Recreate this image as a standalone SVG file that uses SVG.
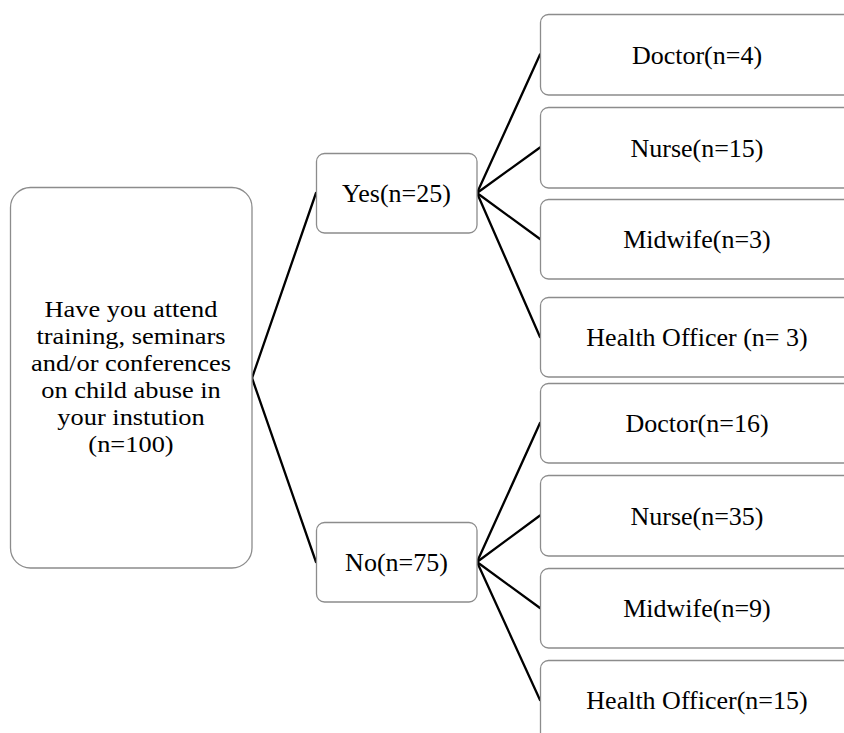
<svg xmlns="http://www.w3.org/2000/svg" width="844" height="733" viewBox="0 0 844 733">
<style>
.box{fill:#ffffff;stroke:#8c8c8c;stroke-width:1.3}
.lbl{font-family:"Liberation Serif","Times New Roman",serif;font-size:26px;fill:#000000;text-anchor:middle}
.root{font-family:"Liberation Serif","Times New Roman",serif;font-size:24px;fill:#000000;text-anchor:middle}
.conn line{stroke:#000000;stroke-width:2.3;stroke-linecap:round}
</style>
<rect width="844" height="733" fill="#ffffff"/>
<g id="connectors" class="conn">
<line x1="252" y1="378" x2="316" y2="193"/>
<line x1="252" y1="378" x2="316" y2="562"/>
<line x1="477" y1="193" x2="540" y2="54.5"/>
<line x1="477" y1="193" x2="540" y2="147.5"/>
<line x1="477" y1="193" x2="540" y2="239"/>
<line x1="477" y1="193" x2="540" y2="337"/>
<line x1="477" y1="562" x2="540" y2="423"/>
<line x1="477" y1="562" x2="540" y2="515.5"/>
<line x1="477" y1="562" x2="540" y2="608"/>
<line x1="477" y1="562" x2="540" y2="700"/>
</g>
<g id="root">
<rect class="box" x="10.5" y="187.5" width="241.5" height="380.5" rx="20" ry="20"/>
<g transform="translate(131,0) scale(1.1,1)">
<text class="root" x="0" y="317">Have you attend</text>
<text class="root" x="0" y="344">training, seminars</text>
<text class="root" x="0" y="371">and/or conferences</text>
<text class="root" x="0" y="398">on child abuse in</text>
<text class="root" x="0" y="425">your instution</text>
<text class="root" x="0" y="452">(n=100)</text>
</g>
</g>
<g id="yes">
<rect class="box" x="316.5" y="153.5" width="160.5" height="79.5" rx="8" ry="8"/>
<text class="lbl" x="396.5" y="202">Yes(n=25)</text>
</g>
<g id="no">
<rect class="box" x="316.5" y="522.5" width="160.5" height="79.5" rx="8" ry="8"/>
<text class="lbl" x="396.5" y="571">No(n=75)</text>
</g>
<g id="yes-doctor">
<rect class="box" x="540.5" y="14.5" width="314" height="80.5" rx="8" ry="8"/>
<text class="lbl" x="697" y="63.5">Doctor(n=4)</text>
</g>
<g id="yes-nurse">
<rect class="box" x="540.5" y="107.5" width="314" height="80.5" rx="8" ry="8"/>
<text class="lbl" x="697" y="156.5">Nurse(n=15)</text>
</g>
<g id="yes-midwife">
<rect class="box" x="540.5" y="199.5" width="314" height="79.5" rx="8" ry="8"/>
<text class="lbl" x="697" y="248">Midwife(n=3)</text>
</g>
<g id="yes-health">
<rect class="box" x="540.5" y="297.5" width="314" height="79.5" rx="8" ry="8"/>
<text class="lbl" x="697" y="346">Health Officer (n= 3)</text>
</g>
<g id="no-doctor">
<rect class="box" x="540.5" y="383.5" width="314" height="79.5" rx="8" ry="8"/>
<text class="lbl" x="697" y="432">Doctor(n=16)</text>
</g>
<g id="no-nurse">
<rect class="box" x="540.5" y="475.5" width="314" height="80.5" rx="8" ry="8"/>
<text class="lbl" x="697" y="524.5">Nurse(n=35)</text>
</g>
<g id="no-midwife">
<rect class="box" x="540.5" y="568.5" width="314" height="79.5" rx="8" ry="8"/>
<text class="lbl" x="697" y="617">Midwife(n=9)</text>
</g>
<g id="no-health">
<rect class="box" x="540.5" y="660.5" width="314" height="80" rx="8" ry="8"/>
<text class="lbl" x="697" y="708.5">Health Officer(n=15)</text>
</g>
</svg>
